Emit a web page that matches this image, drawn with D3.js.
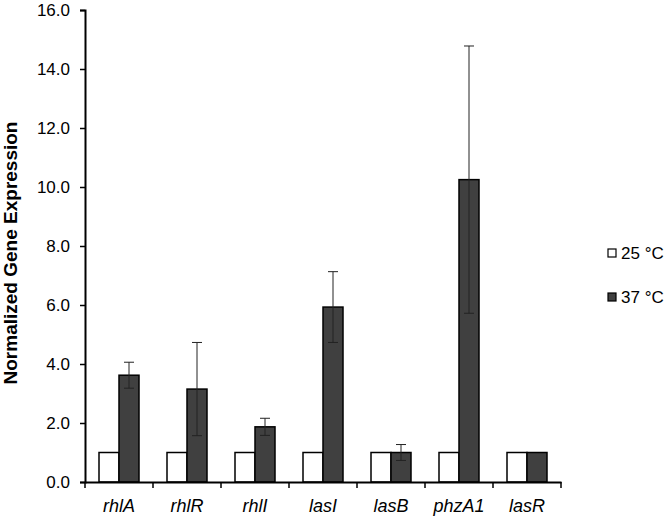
<!DOCTYPE html>
<meta charset="utf-8">
<style>
body { margin: 0; background: #fff; }
svg { font-family: "Liberation Sans", Arial, sans-serif; }
.axis path, .axis line { stroke: #000; }
.axis text { font-size: 17px; fill: #000; }
.x.axis text { font-style: italic; font-size: 18px; }
</style>
<body>
<script src="https://cdnjs.cloudflare.com/ajax/libs/d3/7.8.5/d3.min.js"></script>
<script>

var genes = ["rhlA", "rhlR", "rhlI", "lasI", "lasB", "phzA1", "lasR"];
var series = ["25 °C", "37 °C"];
var values25 = [1, 1, 1, 1, 1, 1, 1];
var values37 = [3.62, 3.15, 1.87, 5.93, 1.0, 10.25, 1.0];
var errors37 = [0.44, 1.58, 0.29, 1.2, 0.27, 4.53, 0];
var yTicks = [0, 2, 4, 6, 8, 10, 12, 14, 16];

var width = 667, height = 519,
    mLeft = 85, mRight = 561, mTop = 10, mBottom = 482;

var colors = ["#ffffff", "#404040"];

var svg = d3.select("body").append("svg")
    .attr("width", width)
    .attr("height", height);

var x = d3.scaleBand().domain(genes).range([mLeft, mRight]);
var y = d3.scaleLinear().domain([0, 16]).range([mBottom, mTop]);
var barW = 20;

// y axis
var yAxis = svg.append("g")
    .attr("class", "y axis")
    .attr("transform", "translate(" + mLeft + ",0)")
    .call(d3.axisLeft(y).tickValues(yTicks).tickSize(5).tickPadding(10)
      .tickFormat(d3.format(".1f")));
yAxis.select(".domain").attr("stroke-width", 2);
yAxis.selectAll(".tick line").attr("stroke-width", 1.5);

// bars
var data = genes.map(function(g, i) {
  return { gene: g, v: [values25[i], values37[i]], e: errors37[i] };
});

var grp = svg.selectAll(".grp")
    .data(data)
  .enter().append("g")
    .attr("class", "grp")
    .attr("transform", function(d) { return "translate(" + (x(d.gene) + x.bandwidth() / 2 - barW) + ",0)"; });

grp.selectAll("rect")
    .data(function(d) { return d.v; })
  .enter().append("rect")
    .attr("x", function(d, i) { return i * barW; })
    .attr("y", function(d) { return y(d); })
    .attr("width", barW)
    .attr("height", function(d) { return y(0) - y(d); })
    .attr("fill", function(d, i) { return colors[i]; })
    .attr("stroke", "#000")
    .attr("stroke-width", 1.5);

// error bars on the 37 °C series
var eb = grp.filter(function(d) { return d.e > 0; }).append("g")
    .attr("stroke", "#222")
    .attr("stroke-width", 1);
eb.append("line")
    .attr("x1", barW * 1.5).attr("x2", barW * 1.5)
    .attr("y1", function(d) { return y(d.v[1] + d.e); })
    .attr("y2", function(d) { return y(d.v[1] - d.e); });
eb.append("line")
    .attr("x1", barW * 1.5 - 5).attr("x2", barW * 1.5 + 5)
    .attr("y1", function(d) { return y(d.v[1] + d.e); })
    .attr("y2", function(d) { return y(d.v[1] + d.e); });
eb.append("line")
    .attr("x1", barW * 1.5 - 5).attr("x2", barW * 1.5 + 5)
    .attr("y1", function(d) { return y(d.v[1] - d.e); })
    .attr("y2", function(d) { return y(d.v[1] - d.e); });

// x axis
var xAxis = svg.append("g")
    .attr("class", "x axis")
    .attr("transform", "translate(0," + mBottom + ")")
    .call(d3.axisBottom(x).tickSize(0).tickPadding(17));
xAxis.select(".domain").attr("stroke-width", 2);
xAxis.selectAll(".bound")
    .data(d3.range(genes.length + 1))
  .enter().append("line")
    .attr("x1", function(i) { return mLeft + i * x.bandwidth(); })
    .attr("x2", function(i) { return mLeft + i * x.bandwidth(); })
    .attr("y1", 0).attr("y2", 6)
    .attr("stroke", "#000").attr("stroke-width", 1.5);

// axis title
svg.append("text")
    .attr("transform", "translate(17,253) rotate(-90)")
    .attr("text-anchor", "middle")
    .style("font-size", "19px")
    .style("font-weight", "bold")
    .text("Normalized Gene Expression");

// legend
var leg = svg.selectAll(".leg")
    .data(series)
  .enter().append("g")
    .attr("class", "leg")
    .attr("transform", function(d, i) { return "translate(608," + (253 + i * 44) + ")"; });
leg.append("rect")
    .attr("x", 0).attr("y", -4)
    .attr("width", 8).attr("height", 8)
    .attr("fill", function(d, i) { return colors[i]; })
    .attr("stroke", "#000").attr("stroke-width", 1.2);
leg.append("text")
    .attr("x", 13).attr("dy", "0.36em")
    .style("font-size", "17px")
    .text(function(d) { return d; });

</script>
